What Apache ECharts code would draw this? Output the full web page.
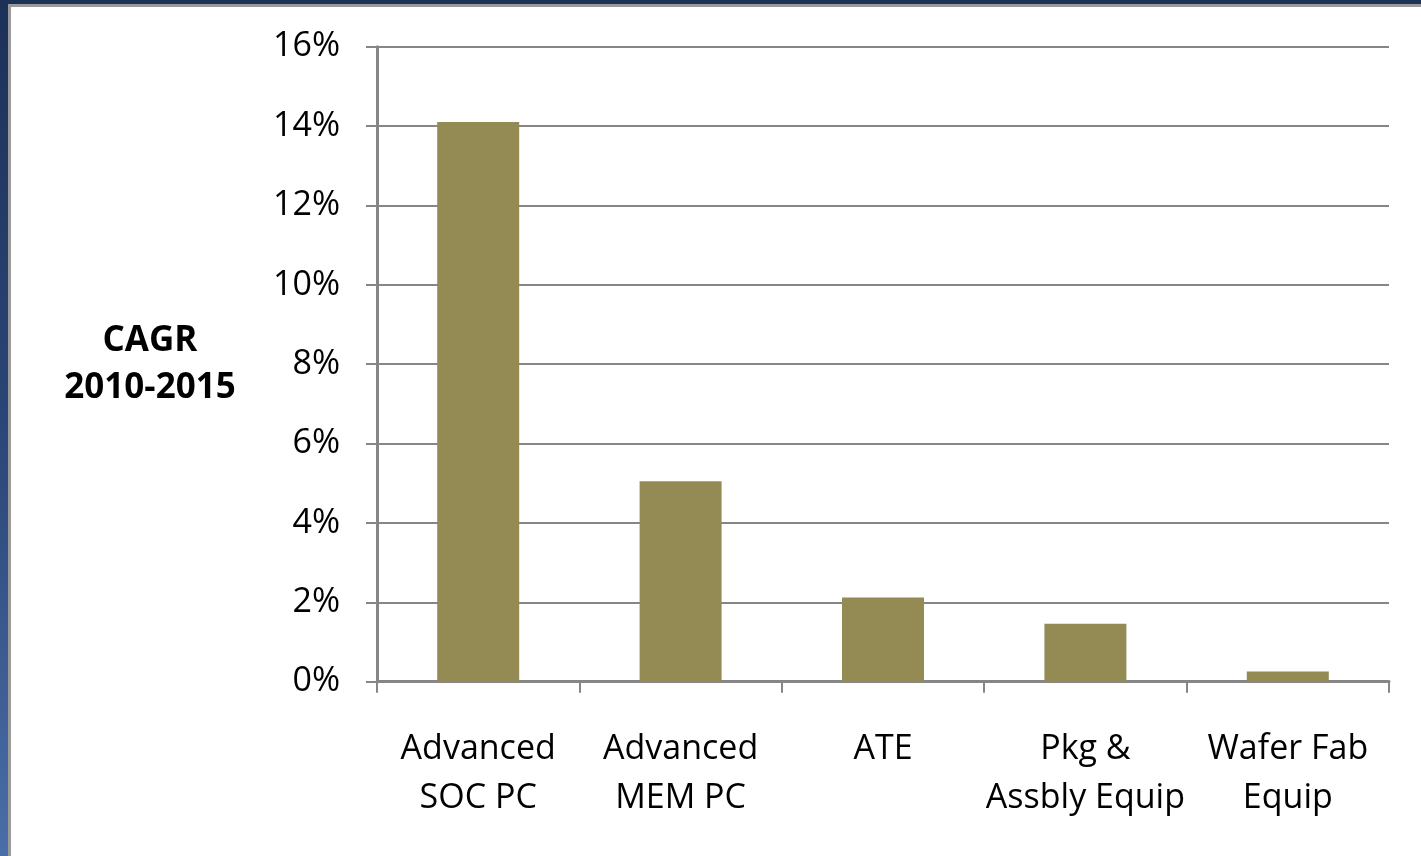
<!DOCTYPE html>
<html>
<head>
<meta charset="utf-8">
<script src="https://cdn.jsdelivr.net/npm/echarts@6/dist/echarts.min.js"></script>
<style>
  html, body { margin: 0; padding: 0; width: 1421px; height: 856px; overflow: hidden; }
  body { background: linear-gradient(180deg, #1d3157 0%, #2b4677 50%, #4a6ea8 100%); position: relative; }
  .panel { position: absolute; left: 8px; top: 4px; right: 0; bottom: 0; background: #fff;
           border-left: 3px solid #9a9a9a; border-top: 3px solid #9a9a9a; }
  #chart { position: absolute; left: 0; top: 0; width: 1421px; height: 856px; }
</style>
</head>
<body>
<div class="panel"></div>
<div id="chart"></div>
<script>
  // 各类设备 2010-2015 年复合增长率（%）
  const categories = ['Advanced\nSOC PC', 'Advanced\nMEM PC', 'ATE', 'Pkg &\nAssbly Equip', 'Wafer Fab\nEquip']
  const cagrValues = [14.1, 5.05, 2.12, 1.46, 0.26]
  const yTicks = [0, 2, 4, 6, 8, 10, 12, 14, 16]

  const chartInstance = echarts.init(document.getElementById('chart'), null, { renderer: 'canvas' })
  const fontFamily = '"Open Sans", "Noto Sans", sans-serif'
  const gridColor = '#868686'

  const option = {
    backgroundColor: 'transparent',
    animation: false,
    grid: {
      left: 377,
      top: 46.7,
      right: 32,
      bottom: 174.3,
      containLabel: false
    },
    xAxis: {
      type: 'category',
      data: categories,
      axisLine: { show: true, lineStyle: { color: gridColor, width: 3 } },
      axisTick: { show: true, alignWithLabel: false, length: 11, lineStyle: { color: gridColor, width: 2 } },
      axisLabel: {
        interval: 0,
        margin: 43,
        color: '#000',
        fontFamily: fontFamily,
        fontSize: 34,
        lineHeight: 49,
        verticalAlign: 'top'
      }
    },
    yAxis: {
      type: 'value',
      min: yTicks[0],
      max: yTicks[yTicks.length - 1],
      interval: 2,
      name: 'CAGR\n2010-2015',
      nameLocation: 'middle',
      nameRotate: 0,
      nameGap: 227,
      nameTextStyle: {
        color: '#000',
        fontFamily: fontFamily,
        fontWeight: 'bold',
        fontSize: 35,
        lineHeight: 47,
        align: 'center',
        verticalAlign: 'middle',
        padding: [8, 0, 0, 0]
      },
      axisLine: { show: true, lineStyle: { color: gridColor, width: 3 } },
      axisTick: { show: true, length: 11, lineStyle: { color: gridColor, width: 2 } },
      axisLabel: {
        margin: 37,
        color: '#000',
        fontFamily: fontFamily,
        fontSize: 34,
        padding: [7, 0, 0, 0],
        formatter: '{value}%'
      },
      splitLine: { show: true, lineStyle: { color: gridColor, width: 2 } }
    },
    series: [
      {
        type: 'bar',
        data: cagrValues,
        barWidth: 82,
        itemStyle: { color: '#948a54' }
      }
    ]
  }
  chartInstance.setOption(option)
</script>
</body>
</html>
